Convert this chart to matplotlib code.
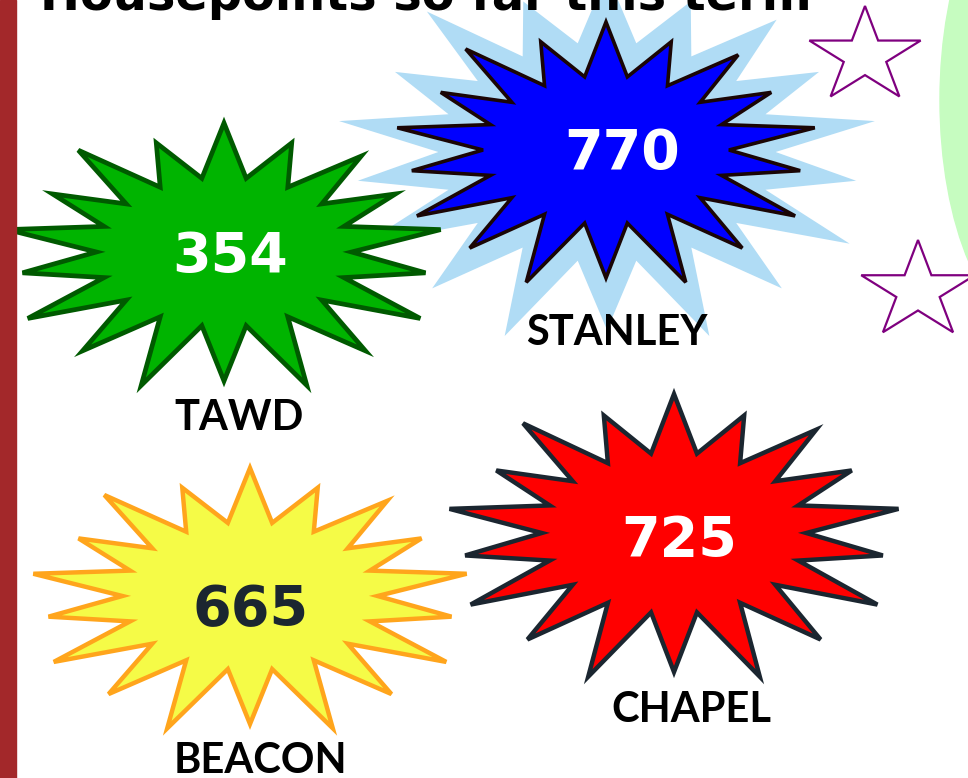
import numpy as np
import matplotlib
matplotlib.use("Agg")
import matplotlib.pyplot as plt
from matplotlib.patches import Polygon, Rectangle, Ellipse

title = "Housepoints so far this term"
houses = ["TAWD", "STANLEY", "BEACON", "CHAPEL"]
points = [354, 770, 665, 725]

# layout (pixel coords, y down)
centres = [(224, 252), (606, 150), (250, 596), (674, 533)]
radii = [(220, 129), (212, 128), (220, 128), (228, 139)]
num_pos = [(230, 252), (622, 149), (251, 605), (679, 536)]
label_pos = [(239, 415), (617, 330), (260, 758), (691, 707)]

fills = ["#00b400", "#0000ff", "#f5fb47", "#ff0000"]
edges = ["#005a00", "#1a0505", "#ffa51c", "#1b2630"]
edge_w = [3.4, 2.6, 3.2, 3.2]
num_colours = ["white", "white", "#1b2630", "white"]

# spike lengths of the burst clip-art shape, clockwise from the top
SPIKES = [1.0, 0.9, 0.97, 0.9, 1.0, 0.93, 1.03, 1.0, 1.1,
          1.0, 1.1, 1.0, 1.03, 0.93, 1.0, 0.9, 1.03, 0.9]


def burst(cx, cy, rx, ry, inner=0.58):
    n = len(SPIKES)
    pts = []
    for i, f in enumerate(SPIKES):
        a = np.deg2rad(-90 + i * 360 / n)
        pts.append((cx + rx * f * np.cos(a), cy + ry * f * np.sin(a)))
        b = a + np.pi / n
        pts.append((cx + rx * inner * np.cos(b), cy + ry * inner * np.sin(b)))
    return pts


def star5(cx, cy, r, sx=1.17):
    pts = []
    for i in range(10):
        a = np.deg2rad(-90 + i * 36)
        rr = r if i % 2 == 0 else r * 0.382
        pts.append((cx + sx * rr * np.cos(a), cy + rr * np.sin(a)))
    return pts


fig = plt.figure(figsize=(9.68, 7.78), dpi=100)
ax = fig.add_axes([0, 0, 1, 1])
ax.set_xlim(0, 968)
ax.set_ylim(778, 0)
ax.axis("off")

ax.add_patch(Ellipse((1040, 100), 200, 460, color="#c6fcc0", zorder=0))
ax.add_patch(Rectangle((0, 0), 16, 778, color="#a3282a", zorder=5))

# light blue halo behind stanley
ax.add_patch(Polygon(burst(607, 152, 272, 178, inner=0.62), closed=True,
                     facecolor="#b0dcf5", edgecolor="none", zorder=1))

order = [3, 4, 3, 3]
for i, h in enumerate(houses):
    cx, cy = centres[i]
    rx, ry = radii[i]
    ax.add_patch(Polygon(burst(cx, cy, rx, ry), closed=True, facecolor=fills[i],
                         edgecolor=edges[i], linewidth=edge_w[i],
                         joinstyle="miter", zorder=order[i]))
    nx, ny = num_pos[i]
    ax.text(nx, ny + 20, str(points[i]), color=num_colours[i], fontsize=40,
            fontweight="bold", family="DejaVu Sans", ha="center",
            va="baseline", zorder=6)
    lx, ly = label_pos[i]
    ax.text(lx, ly + 15, h, color="black", fontsize=30, fontweight="bold",
            family="Lato", ha="center", va="baseline", zorder=6)

for (sx, sy, r) in [(865, 56, 50), (918, 291, 51)]:
    ax.add_patch(Polygon(star5(sx, sy, r), closed=True, facecolor="white",
                         edgecolor="#7f007f", linewidth=1.6, zorder=2))

t = ax.text(40, 10, title, fontsize=40, fontweight="bold",
            family="DejaVu Sans", ha="left", va="baseline", zorder=6)
fig.canvas.draw()
w = t.get_window_extent().width
t.set_fontsize(40 * 772 / w)

fig.savefig("out.png", dpi=100)
